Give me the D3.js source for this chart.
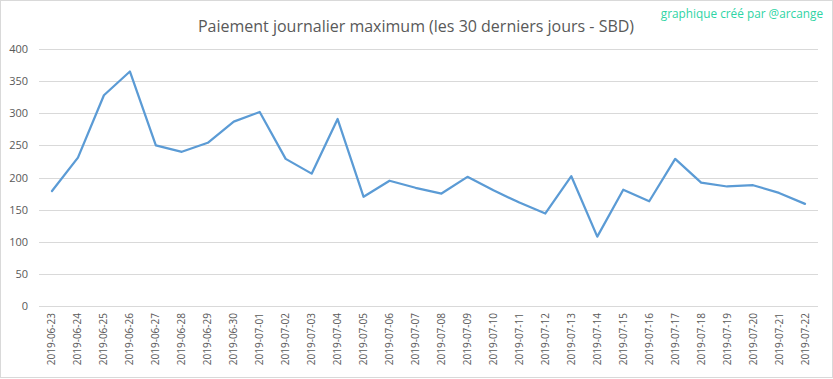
<!DOCTYPE html>
<html><head><meta charset="utf-8">
<script src="https://cdn.jsdelivr.net/npm/d3@7"></script>
<style>body{margin:0;background:#fff;}svg{display:block;}</style>
</head><body>
<script>
const dates = ["2019-06-23","2019-06-24","2019-06-25","2019-06-26","2019-06-27","2019-06-28","2019-06-29","2019-06-30","2019-07-01","2019-07-02","2019-07-03","2019-07-04","2019-07-05","2019-07-06","2019-07-07","2019-07-08","2019-07-09","2019-07-10","2019-07-11","2019-07-12","2019-07-13","2019-07-14","2019-07-15","2019-07-16","2019-07-17","2019-07-18","2019-07-19","2019-07-20","2019-07-21","2019-07-22"];
const values = [179,231,328,365,250,240,254,287,302,229,206,291,170,195,184,175,201,180,161,144,202,108,181,163,229,192,186,188,176,159];
const yTicks = [0,50,100,150,200,250,300,350,400];
const title = "Paiement journalier maximum (les 30 derniers jours - SBD)";
const credit = "graphique créé par @arcange";

const W = 833, H = 379;
const svg = d3.select("body").append("svg").attr("width", W).attr("height", H);
svg.append("rect").attr("x",0.5).attr("y",0.5).attr("width",W-1).attr("height",H-2)
  .attr("fill","#fff").attr("stroke","#d9d9d9");

const x = d3.scaleBand().domain(dates).range([39, 818]);
const y = d3.scaleLinear().domain([0,400]).range([306, 49]);

// gridlines
svg.append("g").selectAll("line").data(yTicks).join("line")
  .attr("x1",39).attr("x2",818)
  .attr("y1",d=>Math.round(y(d))+0.5).attr("y2",d=>Math.round(y(d))+0.5)
  .attr("stroke","#d9d9d9").attr("stroke-width",1);

// y axis labels
const yAxis = d3.axisLeft(y).tickValues(yTicks).tickSize(0).tickPadding(0);
const gy = svg.append("g").attr("transform","translate(28,0)").call(yAxis);
gy.select(".domain").remove();
gy.selectAll("text").attr("fill","#595959").style("font-family","'Open Sans', sans-serif").style("font-size","11px");

// x axis labels
const xAxis = d3.axisBottom(x).tickSize(0).tickPadding(0);
const gx = svg.append("g").attr("transform","translate(0,306)").call(xAxis);
gx.select(".domain").remove();
gx.selectAll("text")
  .attr("transform","rotate(-90)")
  .attr("x",-7).attr("y",0).attr("dy","0.35em")
  .attr("text-anchor","end")
  .attr("fill","#595959")
  .style("font-family","'Open Sans', sans-serif").style("font-size","10px");

// line
const line = d3.line().x((d,i)=>x(dates[i])+x.bandwidth()/2).y(d=>y(d));
svg.append("path").datum(values).attr("d",line)
  .attr("fill","none").attr("stroke","#5b9bd5").attr("stroke-width",2.25)
  .attr("stroke-linejoin","round").attr("stroke-linecap","round");

// title
svg.append("text").attr("x",416).attr("y",32).attr("text-anchor","middle")
  .attr("fill","#595959").style("font-family","'Open Sans', sans-serif").style("font-size","16px")
  .text(title);

// credit
svg.append("text").attr("x",823).attr("y",18).attr("text-anchor","end")
  .attr("fill","#2fd4a4").style("font-family","'Open Sans', sans-serif").style("font-size","11.8px")
  .text(credit);
</script>
</body></html>
